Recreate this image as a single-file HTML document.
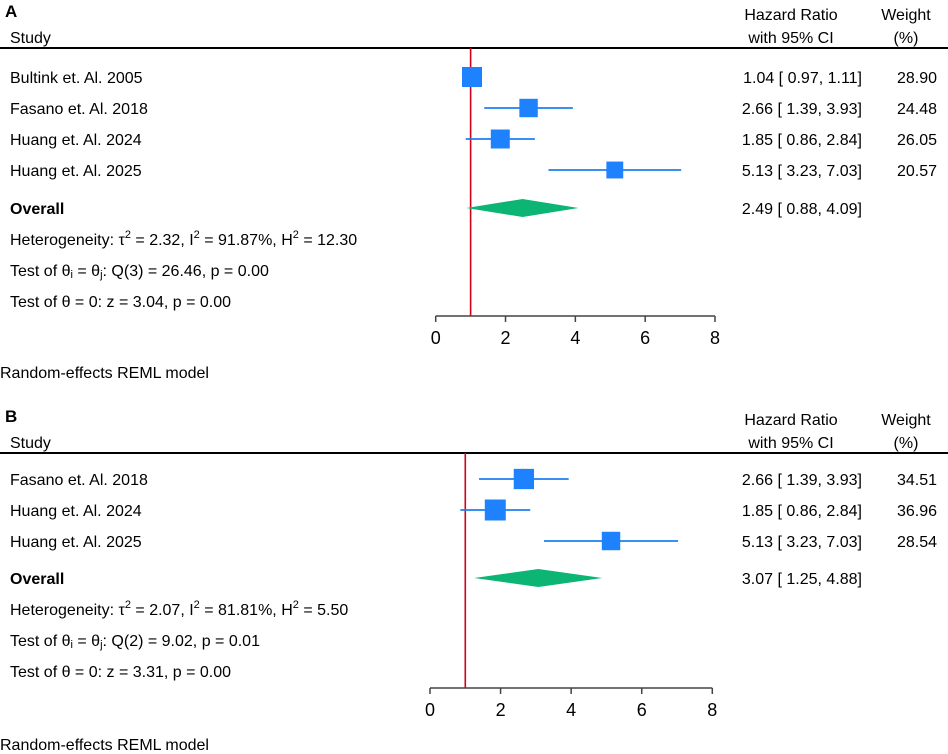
<!DOCTYPE html>
<html><head><meta charset="utf-8"><style>
body{margin:0;background:#fff}
svg{display:block;font-family:"Liberation Sans",Arial,sans-serif}
</style></head><body>
<svg id="c" width="948" height="754" viewBox="0 0 948 754"></svg>
<script>
const panelLabels=["A","B"];
const studiesA=["Bultink et. Al. 2005","Fasano et. Al. 2018","Huang et. Al. 2024","Huang et. Al. 2025"];
const hrA=[1.04,2.66,1.85,5.13];
const lowA=[0.97,1.39,0.86,3.23];
const highA=[1.11,3.93,2.84,7.03];
const weightA=[28.90,24.48,26.05,20.57];
const overallA=[2.49,0.88,4.09];
const statsA=["Heterogeneity: τ<tspan dy='-7' font-size='11'>2</tspan><tspan dy='7'> = 2.32, I</tspan><tspan dy='-7' font-size='11'>2</tspan><tspan dy='7'> = 91.87%, H</tspan><tspan dy='-7' font-size='11'>2</tspan><tspan dy='7'> = 12.30</tspan>","Test of θ<tspan font-size='11' dy='2'>i</tspan><tspan dy='-2'> = θ</tspan><tspan font-size='11' dy='2'>j</tspan><tspan dy='-2'>: Q(3) = 26.46, p = 0.00</tspan>","Test of θ = 0: z = 3.04, p = 0.00"];
const studiesB=["Fasano et. Al. 2018","Huang et. Al. 2024","Huang et. Al. 2025"];
const hrB=[2.66,1.85,5.13];
const lowB=[1.39,0.86,3.23];
const highB=[3.93,2.84,7.03];
const weightB=[34.51,36.96,28.54];
const overallB=[3.07,1.25,4.88];
const statsB=["Heterogeneity: τ<tspan dy='-7' font-size='11'>2</tspan><tspan dy='7'> = 2.07, I</tspan><tspan dy='-7' font-size='11'>2</tspan><tspan dy='7'> = 81.81%, H</tspan><tspan dy='-7' font-size='11'>2</tspan><tspan dy='7'> = 5.50</tspan>","Test of θ<tspan font-size='11' dy='2'>i</tspan><tspan dy='-2'> = θ</tspan><tspan font-size='11' dy='2'>j</tspan><tspan dy='-2'>: Q(2) = 9.02, p = 0.01</tspan>","Test of θ = 0: z = 3.31, p = 0.00"];
const ticks=[0,2,4,6,8];

const svg=document.getElementById('c');
const NS='http://www.w3.org/2000/svg';
function el(tag,attrs,name,txt){const e=document.createElementNS(NS,tag);for(const k in attrs)e.setAttribute(k,attrs[k]);


if(txt!==undefined)e.innerHTML=txt;svg.appendChild(e);return e;}
const f=v=>v.toFixed(2);
const pad=v=>(v<10?' ':'')+f(v);

function panel(o){
  const X=v=>o.x0+(o.x8-o.x0)*v/8;
  el('text',{x:5,y:o.top-31,'font-size':17,'font-weight':'bold'},'panel-label',o.label);
  el('text',{x:10,y:o.top-5,'font-size':16},'study-header','Study');
  el('text',{x:791,y:o.top-28,'font-size':16,'text-anchor':'middle'},'hr-header','Hazard Ratio');
  el('text',{x:791,y:o.top-5,'font-size':16,'text-anchor':'middle'},'hr-header-ci','with 95% CI');
  el('text',{x:906,y:o.top-28,'font-size':16,'text-anchor':'middle'},'weight-header','Weight');
  el('text',{x:906,y:o.top-5,'font-size':16,'text-anchor':'middle'},'weight-header-pct','(%)');
  el('line',{x1:0,x2:948,y1:o.top,y2:o.top,stroke:'#000','stroke-width':2},'header-rule');
  el('line',{x1:X(1),x2:X(1),y1:o.top,y2:o.axisY,stroke:'#d0021b','stroke-width':1.6},'null-line');
  const wmax=Math.max(...o.w);
  o.studies.forEach((s,i)=>{
    const y=o.rowY[i];
    el('text',{x:10,y:y+6,'font-size':16},'study-name',s);
    el('line',{x1:X(o.lo[i]),x2:X(o.hi[i]),y1:y,y2:y,stroke:'#1e7ff0','stroke-width':1.8},'ci-line');
    const sd=o.maxSide*Math.sqrt(o.w[i]/wmax);
    el('rect',{x:X(o.hr[i])-sd/2,y:y-sd/2,width:sd,height:sd,fill:'#1e82ff'},'study-square');
    el('text',{x:862,y:y+6,'font-size':16,'text-anchor':'end','xml:space':'preserve'},'hr-value',f(o.hr[i])+' ['+pad(o.lo[i])+', '+pad(o.hi[i])+']');
    el('text',{x:937,y:y+6,'font-size':16,'text-anchor':'end'},'weight-value',f(o.w[i]));
  });
  const oy=o.overallY,ov=o.ov;
  el('text',{x:10,y:oy+6,'font-size':16,'font-weight':'bold'},'overall-label','Overall');
  el('polygon',{points:`${X(ov[1])},${oy} ${X(ov[0])},${oy-9} ${X(ov[2])},${oy} ${X(ov[0])},${oy+9}`,fill:'#0cb574'},'overall-diamond');
  el('text',{x:862,y:oy+6,'font-size':16,'text-anchor':'end','xml:space':'preserve'},'overall-value',f(ov[0])+' ['+pad(ov[1])+', '+pad(ov[2])+']');
  o.stats.forEach((s,i)=>el('text',{x:10,y:oy+37+31*i,'font-size':16},'stat-line',s));
  el('line',{x1:X(0),x2:X(8),y1:o.axisY,y2:o.axisY,stroke:'#444','stroke-width':1.5},'x-axis');
  ticks.forEach(t=>{
    el('line',{x1:X(t),x2:X(t),y1:o.axisY,y2:o.axisY+6,stroke:'#444','stroke-width':1.5},'x-tick');
    el('text',{x:X(t),y:o.axisY+28,'font-size':18,'text-anchor':'middle'},'x-tick-label',t);
  });
  el('text',{x:0,y:o.axisY+62,'font-size':16},'model-note','Random-effects REML model');
}
panel({label:panelLabels[0],top:48,x0:435.7,x8:715,axisY:316,rowY:[77,108,139,170],overallY:208,maxSide:20,
  studies:studiesA,hr:hrA,lo:lowA,hi:highA,w:weightA,ov:overallA,stats:statsA});
panel({label:panelLabels[1],top:453,x0:430,x8:712.3,axisY:688,rowY:[479,510,541],overallY:578,maxSide:21,
  studies:studiesB,hr:hrB,lo:lowB,hi:highB,w:weightB,ov:overallB,stats:statsB});
</script>
</body></html>
